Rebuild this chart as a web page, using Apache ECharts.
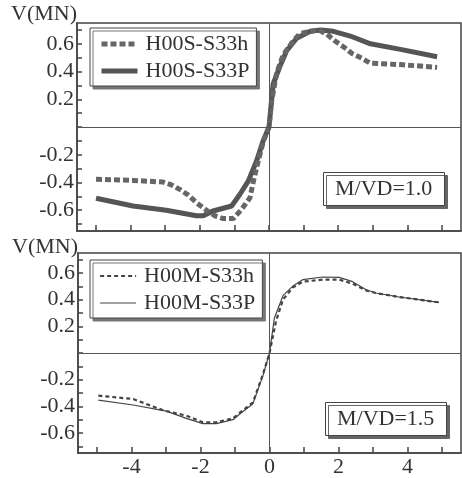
<!DOCTYPE html>
<html>
<head>
<meta charset="utf-8">
<script src="https://cdn.jsdelivr.net/npm/echarts@6.0.0/dist/echarts.min.js"></script>
<style>html,body{margin:0;padding:0;background:#fff;}#c{width:462px;height:478px;}</style>
</head>
<body>
<div id="c"></div>
<script>
// ---- data ----
const xTicks = [-5,-4,-3,-2,-1,0,1,2,3,4,5];
const xTickLabels = [-4,-2,0,2,4];
const yTicks = [-0.7,-0.6,-0.5,-0.4,-0.3,-0.2,-0.1,0,0.1,0.2,0.3,0.4,0.5,0.6,0.7];
const yTickLabels = [-0.6,-0.4,-0.2,0.2,0.4,0.6];

const topNames = ['H00S-S33h','H00S-S33P'];
const botNames = ['H00M-S33h','H00M-S33P'];
const panelNotes = ['M/VD=1.0','M/VD=1.5'];
const yTitle = 'V(MN)';

const topDashX = [-5,-3.93,-3.06,-2.82,-2.58,-2.34,-2.1,-1.81,-1.57,-1.32,-1.03,-0.79,-0.55,-0.45,-0.31,-0.16,0,0.08,0.22,0.41,0.7,0.9,1.43,1.67,1.91,2.2,2.4,2.69,2.93,3.8,4.86];
const topDashY = [-0.377,-0.385,-0.397,-0.418,-0.45,-0.49,-0.545,-0.60,-0.64,-0.66,-0.66,-0.593,-0.51,-0.39,-0.245,-0.10,0,0.19,0.39,0.52,0.62,0.675,0.70,0.67,0.62,0.57,0.53,0.495,0.46,0.45,0.43];

const topSolidX = [-5,-3.93,-2.97,-2.1,-1.9,-1.62,-1.08,-0.84,-0.6,-0.36,-0.17,0,0.12,0.32,0.51,0.8,1.19,1.5,1.86,2.35,2.93,3.8,4.86];
const topSolidY = [-0.514,-0.57,-0.60,-0.64,-0.64,-0.606,-0.57,-0.485,-0.39,-0.245,-0.1,0,0.31,0.44,0.55,0.64,0.69,0.70,0.69,0.656,0.60,0.56,0.507];

const botDashX = [-4.96,-3.95,-3.08,-2.41,-1.93,-1.54,-1.06,-0.48,-0.19,0,0.19,0.39,0.67,0.96,1.54,2.02,2.41,2.79,3.08,3.76,4.91];
const botDashY = [-0.32,-0.345,-0.43,-0.47,-0.52,-0.52,-0.49,-0.37,-0.16,0,0.24,0.40,0.49,0.535,0.55,0.55,0.52,0.47,0.45,0.42,0.38];

const botSolidX = [-4.96,-3.95,-2.99,-2.41,-1.93,-1.54,-1.06,-0.87,-0.48,-0.19,0,0.14,0.39,0.67,0.96,1.54,2.02,2.41,2.79,3.08,3.76,4.91];
const botSolidY = [-0.353,-0.39,-0.436,-0.49,-0.53,-0.53,-0.5,-0.46,-0.38,-0.17,0,0.26,0.43,0.5,0.55,0.57,0.567,0.535,0.476,0.45,0.42,0.38];

// ---- build ----
const zip = (xs, ys) => xs.map((x, i) => [x, ys[i]]);
const FONT = "'Liberation Serif', 'Times New Roman', serif";
const INK = '#333';
const FRAME = '#444';
const TOP_DASH = {color: '#666', width: 5, type: [6, 3]};
const TOP_SOLID = {color: '#555', width: 5, type: 'solid'};
const BOT_DASH = {color: '#444', width: 2.2, type: [4, 3]};
const BOT_SOLID = {color: '#444', width: 1.2, type: 'solid'};

function xAxis(gridIndex, showLabels) {
  return {
    type: 'value', gridIndex, min: -5.55, max: 5.55,
    axisLine: {show: true, onZero: false, lineStyle: {color: FRAME, width: 1.5}},
    axisTick: {show: true, inside: true, length: 6, customValues: xTicks, lineStyle: {color: FRAME, width: 1.5}},
    axisLabel: {show: showLabels, customValues: xTickLabels, margin: 3, fontFamily: FONT, fontSize: 22, color: INK},
    splitLine: {show: false}
  };
}
function yAxis(gridIndex) {
  return {
    type: 'value', gridIndex, min: -0.75, max: 0.75,
    axisLine: {show: true, onZero: false, lineStyle: {color: FRAME, width: 1.5}},
    axisTick: {show: true, inside: true, length: 5, customValues: yTicks, lineStyle: {color: FRAME, width: 1.5}},
    axisLabel: {show: true, customValues: yTickLabels, margin: 3, fontFamily: FONT, fontSize: 22, color: INK,
      formatter: v => String(Math.round(v * 10) / 10)},
    splitLine: {show: false}
  };
}
const zeroLines = {
  silent: true, symbol: ['none', 'none'], animation: false,
  label: {show: false},
  lineStyle: {type: 'solid', color: '#555', width: 1},
  emphasis: {disabled: true},
  data: [{xAxis: 0}, {yAxis: 0}]
};
function legend(names, styles, top) {
  return {
    data: names.map((n, i) => ({name: n, lineStyle: styles[i]})),
    orient: 'vertical', left: 90, top,
    padding: [5, 7, 4, 9], itemGap: 5, itemWidth: 36, itemHeight: 2,
    itemStyle: {opacity: 0},
    backgroundColor: '#fff', borderColor: FRAME, borderWidth: 1,
    shadowColor: '#777', shadowBlur: 0, shadowOffsetX: 3, shadowOffsetY: 3,
    textStyle: {fontFamily: FONT, fontSize: 22, color: INK, lineHeight: 22, padding: [0, 0, 0, 3]},
    selectedMode: false
  };
}
function note(text, left, top) {
  return {
    text, left, top, padding: [6, 12, 6, 12],
    borderColor: FRAME, borderWidth: 1, backgroundColor: '#fff',
    shadowColor: '#666', shadowBlur: 0, shadowOffsetX: 3, shadowOffsetY: 3,
    textStyle: {fontFamily: FONT, fontSize: 22, fontWeight: 'normal', color: INK}
  };
}

const chart = echarts.init(document.getElementById('c'), null, {renderer: 'canvas'});
chart.setOption({
  animation: false,
  backgroundColor: '#fff',
  textStyle: {fontFamily: FONT},
  title: [
    {text: yTitle, left: 11, top: 3, padding: 0, textStyle: {fontFamily: FONT, fontSize: 22, fontWeight: 'normal', color: INK}},
    {text: yTitle, left: 12, top: 236, padding: 0, textStyle: {fontFamily: FONT, fontSize: 22, fontWeight: 'normal', color: INK}},
    note(panelNotes[0], 323, 172),
    note(panelNotes[1], 325, 402)
  ],
  legend: [legend(topNames, [TOP_DASH, TOP_SOLID], 28), legend(botNames, [BOT_DASH, BOT_SOLID], 260)],
  grid: [
    {left: 77, right: 1, top: 23, height: 208, show: true, borderColor: FRAME, borderWidth: 1.5, backgroundColor: 'transparent'},
    {left: 78, right: 1, top: 253, height: 207, show: true, borderColor: FRAME, borderWidth: 1.5, backgroundColor: 'transparent'}
  ],
  xAxis: [xAxis(0, false), xAxis(1, true)],
  yAxis: [yAxis(0), yAxis(1)],
  series: [
    {name: topNames[0], type: 'line', xAxisIndex: 0, yAxisIndex: 0, data: zip(topDashX, topDashY),
     symbol: 'none', color: '#666', lineStyle: TOP_DASH, markLine: zeroLines, z: 3},
    {name: topNames[1], type: 'line', xAxisIndex: 0, yAxisIndex: 0, data: zip(topSolidX, topSolidY),
     symbol: 'none', color: '#555', lineStyle: TOP_SOLID, z: 2},
    {name: botNames[0], type: 'line', xAxisIndex: 1, yAxisIndex: 1, data: zip(botDashX, botDashY),
     symbol: 'none', color: '#444', lineStyle: BOT_DASH, markLine: zeroLines, z: 3},
    {name: botNames[1], type: 'line', xAxisIndex: 1, yAxisIndex: 1, data: zip(botSolidX, botSolidY),
     symbol: 'none', color: '#444', lineStyle: BOT_SOLID, z: 2}
  ]
});
</script>
</body>
</html>
